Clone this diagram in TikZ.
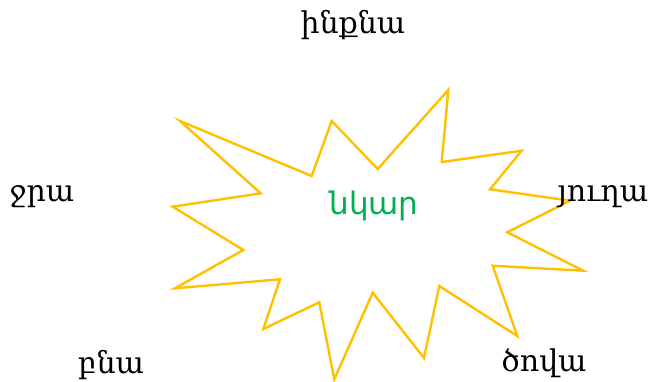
\documentclass[tikz,border=0pt]{standalone}
\usepackage{fontspec}
\setmainfont{DejaVu Serif}
\newfontfamily\armsans{DejaVu Sans}
\definecolor{stargold}{HTML}{FFC000}
\definecolor{stargreen}{HTML}{00B050}
\begin{document}
\begin{tikzpicture}[x=1pt,y=-1pt,
  lbl/.style={inner sep=0pt,font=\fontsize{30}{34}\selectfont},
  ctr/.style={inner sep=0pt,text=stargreen,font=\armsans\fontsize{31}{35}\selectfont},
  starline/.style={draw=stargold,line width=2.4pt,line join=miter}]
\useasboundingbox (0,0) rectangle (650,381);
\draw[starline] (180,121) -- (311.7,176) -- (331.7,121) -- (377.7,169) -- (448.3,90)
  -- (441.7,162) -- (521.7,150.7) -- (490,189.3) -- (570,200.7) -- (507.3,232.3)
  -- (583.3,270.7) -- (492.7,265.7) -- (517.3,336) -- (439.3,286) -- (424,358)
  -- (372.7,292.7) -- (334.3,379.3) -- (319.3,302.3) -- (263.3,329) -- (280,279.3)
  -- (175,288.3) -- (243.3,250) -- (172.7,206.7) -- (260.7,193.3) -- cycle;
\node[ctr] (center) at (374,206) {նկար};
\node[lbl] (top) at (353,25) {ինքնա};
\node[lbl] (left) at (42,197) {ջրա};
\node[lbl] (right) at (603,197) {յուղա};
\node[lbl] (bl) at (111,365) {բնա};
\node[lbl] (br) at (544,363) {ծովա};
\end{tikzpicture}
\end{document}
